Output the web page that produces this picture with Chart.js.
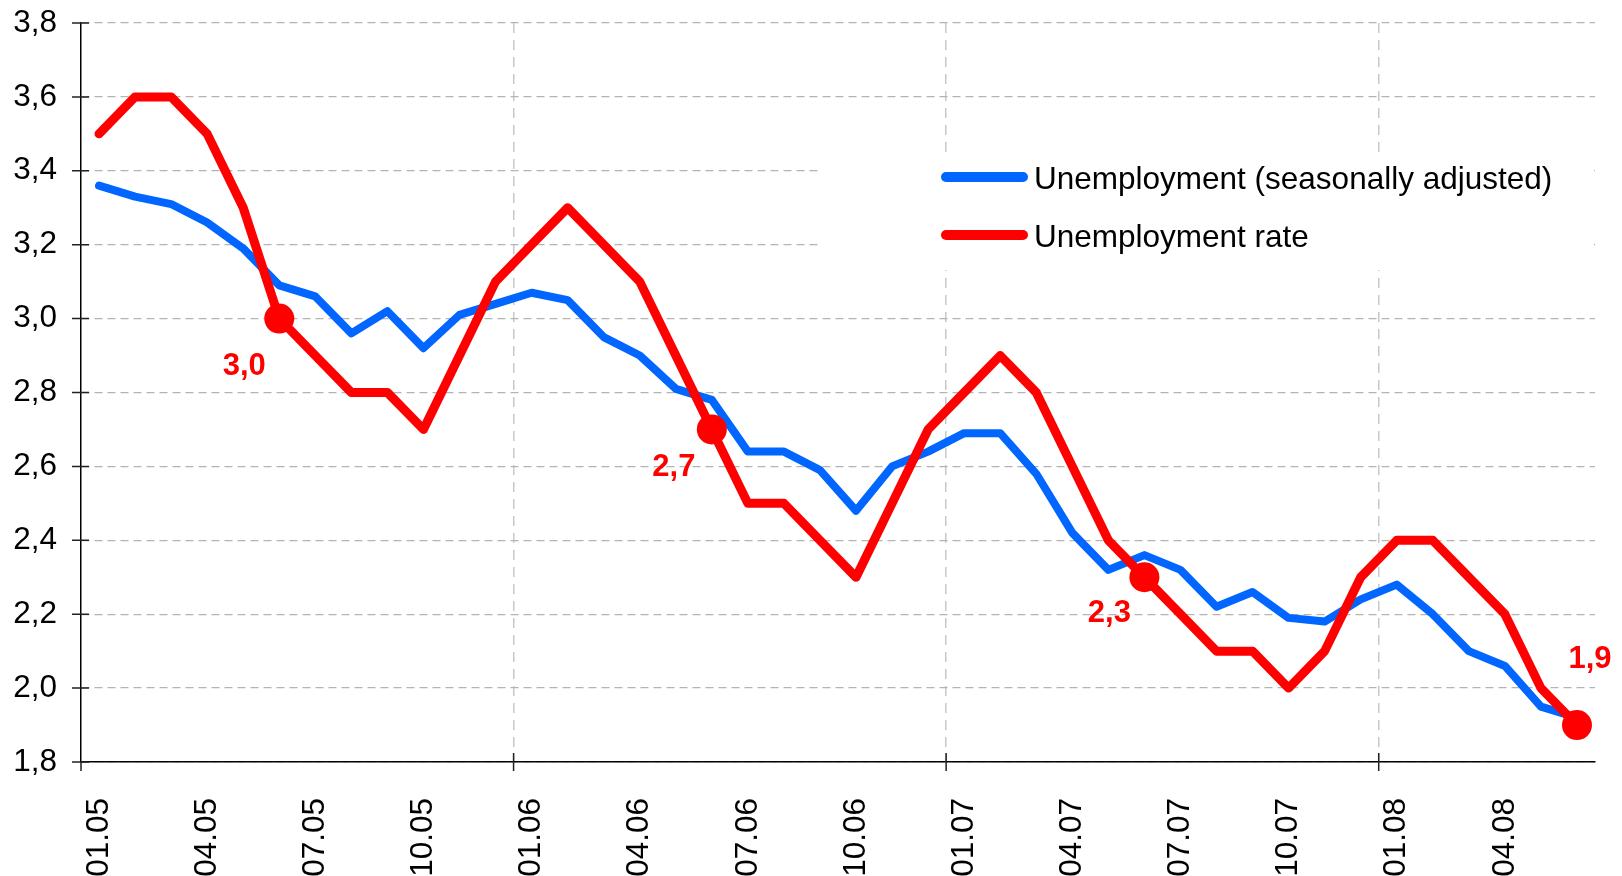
<!DOCTYPE html>
<html>
<head>
<meta charset="utf-8">
<script src="https://cdn.jsdelivr.net/npm/chart.js@4.4.1/dist/chart.umd.min.js"></script>
<style>
  html, body { margin: 0; padding: 0; background: #ffffff; }
  #wrap { width: 1622px; height: 876px; position: relative; }
</style>
</head>
<body>
<div id="wrap"><canvas id="c" width="1622" height="876"></canvas></div>
<script>
// ---- data ----
const months = [
  '01.05','02.05','03.05','04.05','05.05','06.05','07.05','08.05','09.05','10.05','11.05','12.05',
  '01.06','02.06','03.06','04.06','05.06','06.06','07.06','08.06','09.06','10.06','11.06','12.06',
  '01.07','02.07','03.07','04.07','05.07','06.07','07.07','08.07','09.07','10.07','11.07','12.07',
  '01.08','02.08','03.08','04.08','05.08','06.08'
];
const seasonallyAdjusted = [
  3.36,3.33,3.31,3.26,3.19,3.09,3.06,2.96,3.02,2.92,3.01,3.04,
  3.07,3.05,2.95,2.90,2.81,2.78,2.64,2.64,2.59,2.48,2.60,2.64,
  2.69,2.69,2.58,2.42,2.32,2.36,2.32,2.22,2.26,2.19,2.18,2.24,
  2.28,2.20,2.10,2.06,1.95,1.92
];
const unemploymentRate = [
  3.5,3.6,3.6,3.5,3.3,3.0,2.9,2.8,2.8,2.7,2.9,3.1,
  3.2,3.3,3.2,3.1,2.9,2.7,2.5,2.5,2.4,2.3,2.5,2.7,
  2.8,2.9,2.8,2.6,2.4,2.3,2.2,2.1,2.1,2.0,2.1,2.3,
  2.4,2.4,2.3,2.2,2.0,1.9
];
const markedMonths = ['06.05','06.06','06.07','06.08'];
const seriesNames = ['Unemployment (seasonally adjusted)', 'Unemployment rate'];
const yMin = 1.8, yMax = 3.8, yStep = 0.2;

// ---- styles ----
const FONT = '"Liberation Sans", Arial, Helvetica, sans-serif';
const BLUE = '#0066ff';
const RED = '#ff0000';
const fmt = v => Number(v).toFixed(1).replace('.', ',');
const isMarked = i => markedMonths.includes(months[i]);
const isYearStart = i => i > 0 && months[i].startsWith('01.');

// label offsets for the annotated points (pixels relative to the marker)
const labelOffsets = [{dx:-35, dy:56}, {dx:-38, dy:47}, {dx:-35, dy:45}, {dx:13, dy:-57}];

const legendPlugin = {
  id: 'boxLegend',
  beforeDatasetsDraw(chart) {
    const ctx = chart.ctx;
    const area = chart.chartArea;
    ctx.save();
    ctx.fillStyle = '#ffffff';
    ctx.fillRect(820, 152, area.right - 820 - 1, 118);
    const items = [
      {color: BLUE, text: seriesNames[0], y: 177},
      {color: RED, text: seriesNames[1], y: 235}
    ];
    items.forEach(it => {
      ctx.strokeStyle = it.color;
      ctx.lineWidth = 10;
      ctx.lineCap = 'round';
      ctx.beginPath();
      ctx.moveTo(946, it.y);
      ctx.lineTo(1023, it.y);
      ctx.stroke();
      ctx.fillStyle = '#000000';
      ctx.font = '31.5px ' + FONT;
      ctx.textBaseline = 'alphabetic';
      ctx.textAlign = 'left';
      ctx.fillText(it.text, 1034, it.y + 12);
    });
    ctx.restore();
  }
};

const ticksPlugin = {
  id: 'crossTicks',
  afterDraw(chart) {
    const ctx = chart.ctx;
    const area = chart.chartArea;
    const x = chart.scales.x, y = chart.scales.y;
    ctx.save();
    ctx.strokeStyle = '#222222';
    ctx.lineWidth = 1.5;
    ctx.beginPath();
    y.ticks.forEach(t => {
      const py = y.getPixelForValue(t.value);
      ctx.moveTo(area.left - 9, py);
      ctx.lineTo(area.left + 8, py);
    });
    months.forEach((m, i) => {
      if (isYearStart(i)) {
        const px = (x.getPixelForValue(i - 1) + x.getPixelForValue(i)) / 2;
        ctx.moveTo(px, area.bottom - 9);
        ctx.lineTo(px, area.bottom + 9);
      }
    });
    ctx.moveTo(area.left, area.bottom);
    ctx.lineTo(area.left, area.bottom + 9);
    ctx.stroke();
    ctx.restore();
  }
};

const labelsPlugin = {
  id: 'pointLabels',
  afterDatasetsDraw(chart) {
    const ctx = chart.ctx;
    const dsIndex = chart.data.datasets.findIndex(d => d.label === seriesNames[1]);
    const meta = chart.getDatasetMeta(dsIndex);
    ctx.save();
    ctx.fillStyle = RED;
    ctx.font = 'bold 31px ' + FONT;
    ctx.textAlign = 'center';
    ctx.textBaseline = 'alphabetic';
    let k = 0;
    months.forEach((m, i) => {
      if (isMarked(i)) {
        const p = meta.data[i];
        const off = labelOffsets[k++] || {dx: 0, dy: 40};
        ctx.fillText(fmt(unemploymentRate[i]), p.x + off.dx, p.y + off.dy);
      }
    });
    ctx.restore();
  }
};

new Chart(document.getElementById('c'), {
  type: 'line',
  data: {
    labels: months,
    datasets: [
      {
        label: seriesNames[0],
        data: seasonallyAdjusted,
        borderColor: BLUE,
        backgroundColor: BLUE,
        borderWidth: 8,
        pointRadius: 0,
        borderCapStyle: 'round',
        borderJoinStyle: 'round',
        tension: 0,
        order: 1
      },
      {
        label: seriesNames[1],
        data: unemploymentRate,
        borderColor: RED,
        backgroundColor: RED,
        borderWidth: 9,
        pointRadius: ctx => isMarked(ctx.dataIndex) ? 15 : 0,
        pointBorderWidth: 0,
        pointBackgroundColor: RED,
        borderCapStyle: 'round',
        borderJoinStyle: 'round',
        tension: 0,
        order: 0
      }
    ]
  },
  options: {
    responsive: false,
    animation: false,
    events: [],
    layout: { autoPadding: false, padding: { top: 23, right: 27, left: 0, bottom: 0 } },
    plugins: {
      legend: { display: false },
      title: { display: false },
      tooltip: { enabled: false }
    },
    scales: {
      x: {
        type: 'category',
        offset: true,
        afterFit: s => { s.height = 114; s.paddingLeft = 0; s.paddingRight = 0; },
        grid: {
          offset: true,
          drawTicks: false,
          lineWidth: 1.5,
          color: c => (c.index > 0 && c.index < months.length && isYearStart(c.index)) ? '#c8c8c8' : 'rgba(0,0,0,0)'
        },
        border: { display: true, color: '#000000', width: 1.5, dash: [10, 7] },
        ticks: {
          autoSkip: false,
          maxRotation: 90,
          minRotation: 90,
          padding: 36,
          color: '#000000',
          font: { family: FONT, size: 31.5 },
          callback: function (v, i) { return i % 3 === 0 ? months[i] : ''; }
        }
      },
      y: {
        min: yMin,
        max: yMax,
        afterFit: s => { s.width = 81; s.paddingTop = 0; s.paddingBottom = 0; },
        grid: {
          drawTicks: false,
          lineWidth: 1.3,
          color: '#b4b4b4'
        },
        border: { display: true, color: '#000000', width: 1.5, dash: [8, 5] },
        ticks: {
          stepSize: yStep,
          padding: 24,
          color: '#000000',
          font: { family: FONT, size: 31.5 },
          callback: v => fmt(v)
        }
      }
    }
  },
  plugins: [legendPlugin, labelsPlugin, ticksPlugin]
});
</script>
</body>
</html>
